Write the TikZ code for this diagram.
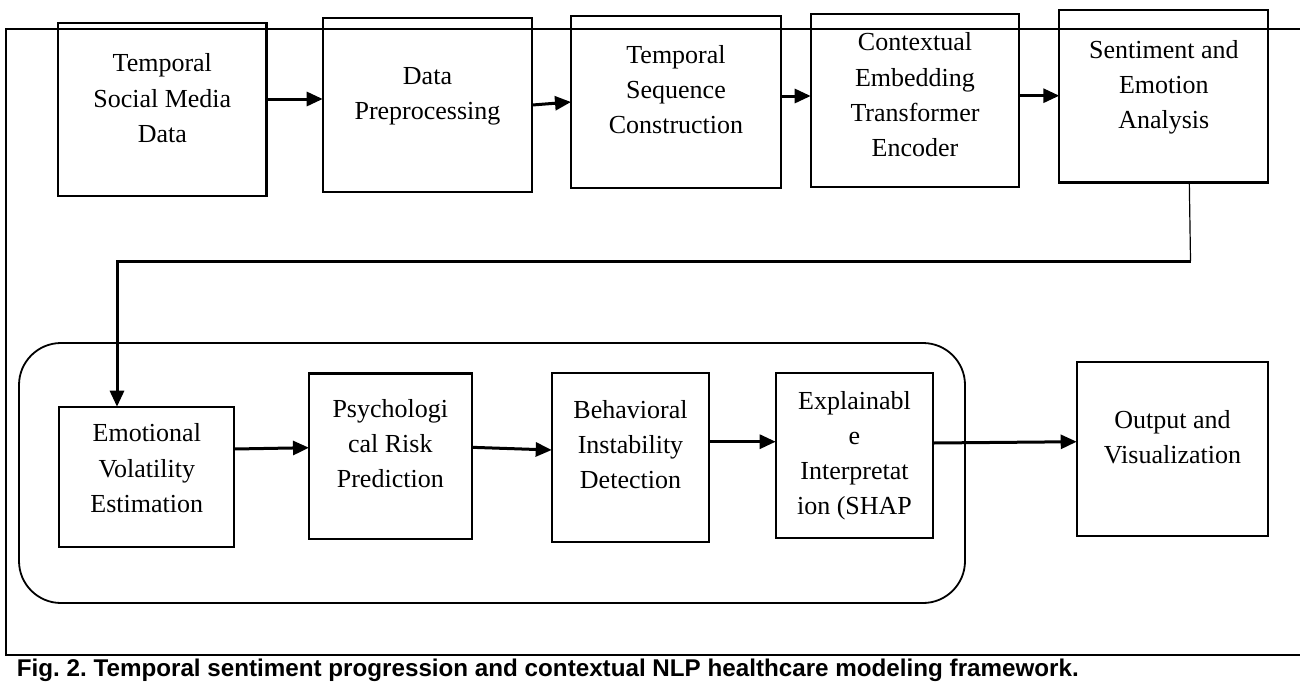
\documentclass[tikz,border=0pt]{standalone}
\usepackage{fontspec}
\setmainfont{Liberation Serif}
\newfontfamily\capfont{Liberation Sans}
\usetikzlibrary{arrows.meta}
\frenchspacing
\newcommand\boxtext[4]{\parbox[c][#2][t]{#1}{\centering\rule{0pt}{#3}#4}}
\begin{document}
\begin{tikzpicture}[x=1pt,y=-1pt,
  stage/.style={draw, line width=2.3pt, inner sep=0pt, outer sep=0pt,
    font=\fontsize{26}{35.3}\selectfont},
  arr/.style={line width=3pt, -{Triangle[length=16pt,width=14pt]}},
  thinline/.style={line width=1.2pt},
  frameline/.style={line width=2.2pt},
  group/.style={draw, line width=1.8pt, rounded corners=42pt, inner sep=0pt,
    minimum width=946pt, minimum height=260pt}]
\useasboundingbox (0,0) rectangle (1300,686);
\fill[white] (0,0) rectangle (1300,686);
% outer frame
\draw[frameline] (1300,29) -- (6,29) -- (6,655) -- (1300,655);
% group container
\node[group] (grp) at (492,473) {};
% top row
\node[stage] (b1) at (162.3,109.5) {\boxtext{208.5pt}{173pt}{48.7pt}{Temporal\\Social Media\\Data}};
\node[stage] (b2) at (427.5,105) {\boxtext{209.6pt}{173.4pt}{65.7pt}{Data\\Preprocessing}};
\node[stage] (b3) at (676,102) {\boxtext{210pt}{172.6pt}{47.6pt}{Temporal\\Sequence\\Construction}};
\node[stage] (b4) at (915,100.5) {\boxtext{208.6pt}{172.4pt}{36.4pt}{Contextual\\Embedding\\Transformer\\Encoder}};
\node[stage] (b5) at (1163.8,96.2) {\boxtext{209pt}{172.3pt}{48.3pt}{Sentiment and\\Emotion\\Analysis}};
% bottom row
\node[stage] (b6) at (146.8,476.7) {\boxtext{175pt}{140pt}{35pt}{Emotional\\Volatility\\Estimation}};
\node[stage] (b7) at (390.3,456.2) {\boxtext{162.7pt}{165.7pt}{44pt}{Psychologi\\cal Risk\\Prediction}};
\node[stage] (b8) at (630.5,457.8) {\boxtext{157.6pt}{169pt}{45pt}{Behavioral\\Instability\\Detection}};
\node[stage] (b9) at (854.5,455.8) {\boxtext{157.6pt}{165pt}{35.7pt}{Explainabl\\e\\Interpretat\\ion (SHAP}};
\node[stage] (b10) at (1172.5,449) {\boxtext{191.6pt}{173.4pt}{66pt}{Output and\\Visualization}};
% connectors
\coordinate (turn) at (1190.5,261);
\coordinate (bend) at (117,261);
\draw[arr] ([yshift=10.5pt]b1.east) -- ([yshift=6pt]b2.west);
\draw[arr] (b2.east) -- (b3.west);
\draw[arr] ([yshift=6pt]b3.east) -- ([yshift=4.5pt]b4.west);
\draw[arr] ([yshift=4.8pt]b4.east) -- ([yshift=0.5pt]b5.west);
\draw[thinline] ([xshift=25.5pt]b5.south) -- (turn);
\draw[arr] (turn) -- (bend) -- (bend |- b6.north);
\draw[arr] ([yshift=27.7pt]b6.east) -- ([yshift=8.5pt]b7.west);
\draw[arr] ([yshift=8.9pt]b7.east) -- ([yshift=7.8pt]b8.west);
\draw[arr] ([yshift=16.1pt]b8.east) -- ([yshift=14.1pt]b9.west);
\draw[arr] ([yshift=12.8pt]b9.east) -- ([yshift=7.3pt]b10.west);
% caption
\node[font=\capfont\bfseries\fontsize{24.2}{29}\selectfont, anchor=base west, inner sep=0pt] (cap) at (16.7,676)
  {Fig. 2. Temporal sentiment progression and contextual NLP healthcare modeling framework.};
\end{tikzpicture}
\end{document}
